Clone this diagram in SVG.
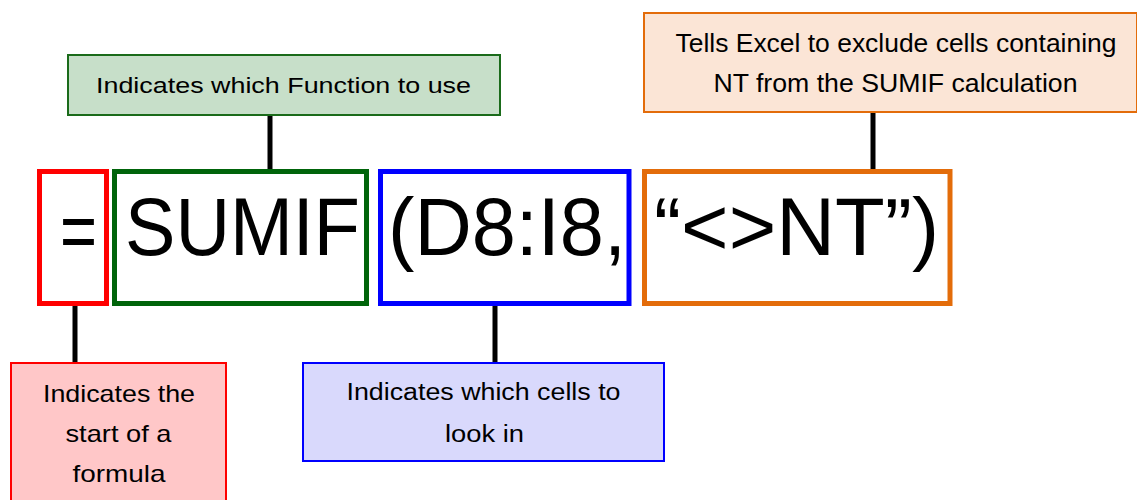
<svg xmlns="http://www.w3.org/2000/svg" width="1137" height="500" viewBox="0 0 1137 500">
<style>
.big{font-family:"Liberation Sans",Arial,sans-serif;font-size:81px;fill:#000}
.lbl{font-family:"Liberation Sans",Arial,sans-serif;fill:#000;text-anchor:middle}
.fbox{fill:#fff;stroke-width:5}
.lbox{stroke-width:2}
.conn{stroke:#000;stroke-width:5;fill:none}
</style>
<rect width="1137" height="500" fill="#fff"/>
<g id="connectors">
<line class="conn" x1="270" y1="116" x2="270" y2="170"/>
<line class="conn" x1="873" y1="112" x2="873" y2="170"/>
<line class="conn" x1="75" y1="304" x2="75" y2="363"/>
<line class="conn" x1="495" y1="304" x2="495" y2="363"/>
</g>
<g id="box-equals">
<rect class="fbox" x="39.5" y="171.5" width="67" height="132" stroke="#ff0000"/>
<text class="big" x="60" y="259" textLength="37" lengthAdjust="spacingAndGlyphs">=</text>
</g>
<g id="box-sumif">
<rect class="fbox" x="114.5" y="171.5" width="252" height="132" stroke="#00640a"/>
<text class="big" x="125" y="255" textLength="235" lengthAdjust="spacingAndGlyphs">SUMIF</text>
</g>
<g id="box-range">
<rect class="fbox" x="380.5" y="171.5" width="248.5" height="132" stroke="#0000ff"/>
<text class="big" x="388" y="255" textLength="238" lengthAdjust="spacingAndGlyphs">(D8:I8,</text>
</g>
<g id="box-criteria">
<rect class="fbox" x="644.5" y="171.5" width="305.5" height="132" stroke="#e36c0a"/>
<text class="big" x="654" y="255" textLength="285" lengthAdjust="spacingAndGlyphs">“&lt;&gt;NT”)</text>
</g>
<g id="label-function">
<rect class="lbox" x="68" y="55" width="432" height="60" fill="#c7dfc9" stroke="#1a6b1a"/>
<text class="lbl" x="283.5" y="92.5" font-size="22" textLength="375" lengthAdjust="spacingAndGlyphs">Indicates which Function to use</text>
</g>
<g id="label-criteria">
<rect class="lbox" x="644" y="13" width="493" height="99" fill="#fbe5d6" stroke="#e36c0a"/>
<text class="lbl" x="896" y="51.5" font-size="25" textLength="441" lengthAdjust="spacingAndGlyphs">Tells Excel to exclude cells containing</text>
<text class="lbl" x="895.5" y="91.5" font-size="25" textLength="364" lengthAdjust="spacingAndGlyphs">NT from the SUMIF calculation</text>
</g>
<g id="label-equals">
<rect class="lbox" x="11" y="363" width="215" height="150" fill="#ffc7c8" stroke="#ff0000"/>
<text class="lbl" x="119" y="401.5" font-size="24" textLength="152" lengthAdjust="spacingAndGlyphs">Indicates the</text>
<text class="lbl" x="118.5" y="441.5" font-size="24" textLength="106" lengthAdjust="spacingAndGlyphs">start of a</text>
<text class="lbl" x="119" y="481.5" font-size="24" textLength="93" lengthAdjust="spacingAndGlyphs">formula</text>
</g>
<g id="label-range">
<rect class="lbox" x="303" y="363" width="361" height="98" fill="#d9d9fc" stroke="#0000ff"/>
<text class="lbl" x="483.5" y="400" font-size="23" textLength="274" lengthAdjust="spacingAndGlyphs">Indicates which cells to</text>
<text class="lbl" x="484.5" y="441.5" font-size="23" textLength="79" lengthAdjust="spacingAndGlyphs">look in</text>
</g>
</svg>
